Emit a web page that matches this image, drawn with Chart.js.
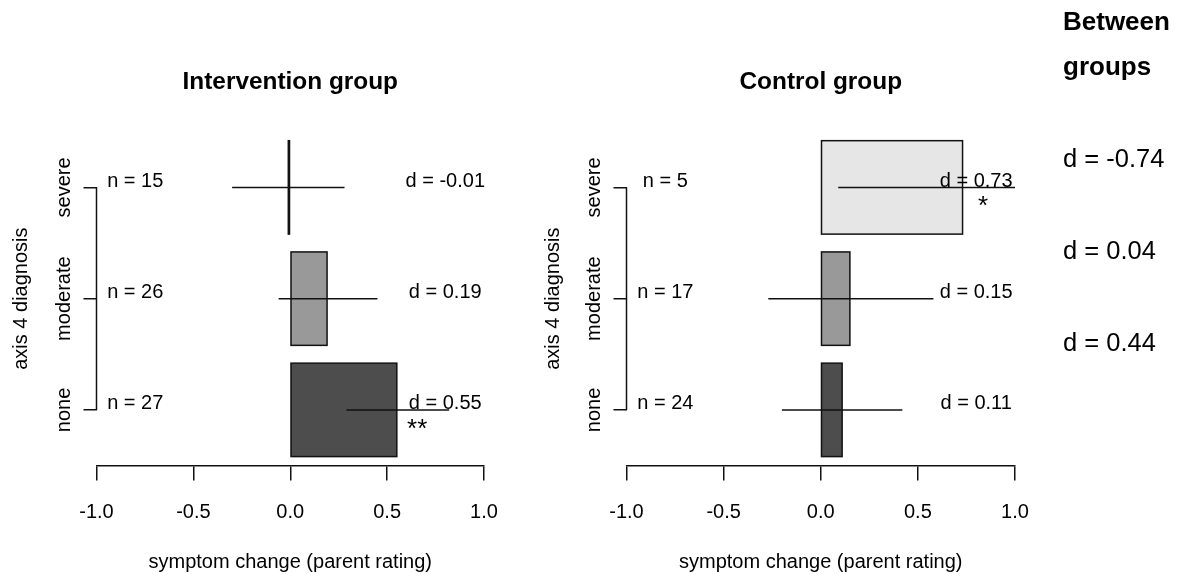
<!DOCTYPE html>
<html>
<head>
<meta charset="utf-8">
<script src="https://cdn.jsdelivr.net/npm/chart.js@4"></script>
<style>
  html, body { margin: 0; padding: 0; background: #fff; }
  #wrap { position: relative; width: 1185px; height: 574px; overflow: hidden; }
  #left { position: absolute; left: 0; top: 0; }
  #right { position: absolute; left: 530px; top: 0; }
</style>
</head>
<body>
<div id="wrap">
  <canvas id="left" width="530" height="574"></canvas>
  <canvas id="right" width="655" height="574"></canvas>
</div>
<script>
// Diagnosis categories, top to bottom
const categories = ['severe', 'moderate', 'none'];
const xTickValues = [-1, -0.5, 0, 0.5, 1];
const xTickLabels = ['-1.0', '-0.5', '0.0', '0.5', '1.0'];

// Intervention group: effect size d, confidence interval, sample size, significance
const interventionD = [-0.01, 0.19, 0.55];
const interventionLow = [-0.30, -0.06, 0.29];
const interventionHigh = [0.28, 0.45, 0.82];
const interventionN = [15, 26, 27];
const interventionSig = ['', '', '**'];

// Control group
const controlD = [0.73, 0.15, 0.11];
const controlLow = [0.09, -0.27, -0.20];
const controlHigh = [1.00, 0.58, 0.42];
const controlN = [5, 17, 24];
const controlSig = ['*', '', ''];

// Between-group effect sizes
const betweenD = [-0.74, 0.04, 0.44];

const FONT = '"Liberation Sans", Arial, Helvetica, sans-serif';
const barFills = ['#e6e6e6', '#999999', '#4d4d4d'];
const INK = '#111';

// Bar outlines centred on the edges, whiskers, value labels,
// and a y axis whose line spans only the first..last tick
const groupMarks = {
  id: 'groupMarks',
  afterDatasetsDraw(chart, args, opts) {
    const { ctx, chartArea } = chart;
    const x = chart.scales.x, y = chart.scales.y;
    const labels = y.getLabels();
    ctx.save();
    ctx.strokeStyle = INK;
    ctx.lineWidth = 1.5;

    chart.getDatasetMeta(0).data.forEach((bar) => {
      const { x: bx, y: by, base, height } = bar.getProps(['x', 'y', 'base', 'height'], true);
      ctx.strokeRect(Math.min(bx, base), by - height / 2, Math.abs(bx - base), height);
    });

    ctx.beginPath();
    ctx.moveTo(chartArea.left, y.getPixelForValue(0));
    ctx.lineTo(chartArea.left, y.getPixelForValue(labels.length - 1));
    ctx.stroke();

    ctx.fillStyle = '#000';
    labels.forEach((lab, i) => {
      const py = y.getPixelForValue(i);
      ctx.font = '20px ' + FONT;
      // rotated category label
      ctx.save();
      ctx.translate(chartArea.left - 32, py);
      ctx.rotate(-Math.PI / 2);
      ctx.textAlign = 'center';
      ctx.textBaseline = 'middle';
      ctx.fillText(lab, 0, 0);
      ctx.restore();

      // confidence interval
      ctx.beginPath();
      ctx.moveTo(x.getPixelForValue(opts.low[i]), py);
      ctx.lineTo(x.getPixelForValue(opts.high[i]), py);
      ctx.stroke();

      ctx.textAlign = 'center';
      ctx.textBaseline = 'middle';
      ctx.fillText('n = ' + opts.n[i], x.getPixelForValue(-0.8), py - 6);
      ctx.fillText('d = ' + opts.d[i].toFixed(2), x.getPixelForValue(0.8), py - 6);
      if (opts.sig[i]) {
        ctx.font = '26px ' + FONT;
        ctx.fillText(opts.sig[i], x.getPixelForValue(opts.d[i] + 0.105), py + 19.5);
      }
    });
    ctx.restore();
  }
};

// Column of between-group effect sizes to the right of the control panel
const betweenColumn = {
  id: 'betweenColumn',
  afterDraw(chart) {
    const { ctx, chartArea } = chart;
    const x0 = chartArea.right + 48;
    ctx.save();
    ctx.fillStyle = '#000';
    ctx.textAlign = 'left';
    ctx.textBaseline = 'middle';
    ctx.font = 'bold 26px ' + FONT;
    ctx.fillText('Between', x0, 22.7);
    ctx.fillText('groups', x0, 67.7);
    ctx.font = '25.5px ' + FONT;
    betweenD.forEach((v, i) => {
      ctx.fillText('d = ' + v.toFixed(2), x0, 159.5 + i * 92);
    });
    ctx.restore();
  }
};

function makePanel(canvasId, title, d, low, high, n, sig, rightPad, yTitlePad, extraPlugins) {
  return new Chart(document.getElementById(canvasId), {
    type: 'bar',
    data: {
      labels: categories,
      datasets: [{
        data: d,
        backgroundColor: barFills,
        borderWidth: 0,
        inflateAmount: 0,
        barPercentage: 0.84,
        categoryPercentage: 1.0
      }]
    },
    options: {
      indexAxis: 'y',
      responsive: false,
      animation: false,
      devicePixelRatio: 1,
      layout: { padding: { left: 0, right: rightPad, top: 0, bottom: 0 } },
      plugins: {
        legend: { display: false },
        tooltip: { enabled: false },
        title: {
          display: true,
          text: title,
          fullSize: false,
          color: '#000',
          font: { family: FONT, size: 24.4, weight: 'bold' },
          padding: { top: 68, bottom: 34.5 }
        },
        groupMarks: { d, low, high, n, sig }
      },
      scales: {
        x: {
          type: 'linear',
          min: -1,
          max: 1,
          afterBuildTicks: (s) => { s.ticks = xTickValues.map(v => ({ value: v })); },
          afterFit: (s) => { s.height = 108.5; },
          ticks: {
            autoSkip: false,
            maxRotation: 0,
            padding: 20,
            color: '#000',
            font: { family: FONT, size: 20 },
            callback: (v, i) => xTickLabels[i]
          },
          grid: { drawOnChartArea: false, drawTicks: true, tickLength: 15, color: INK, lineWidth: 1.5 },
          border: { display: true, color: INK, width: 1.5 },
          title: {
            display: true,
            text: 'symptom change (parent rating)',
            color: '#000',
            font: { family: FONT, size: 20 },
            padding: { top: 0, bottom: 0 }
          }
        },
        y: {
          type: 'category',
          offset: true,
          afterFit: (s) => { s.width = 96.5; },
          ticks: { display: false },
          grid: { offset: false, drawOnChartArea: false, drawTicks: true, tickLength: 13, color: INK, lineWidth: 1.5 },
          border: { display: false },
          title: {
            display: true,
            text: 'axis 4 diagnosis',
            color: '#000',
            font: { family: FONT, size: 20 },
            padding: { top: yTitlePad, bottom: 0 }
          }
        }
      }
    },
    plugins: [groupMarks].concat(extraPlugins)
  });
}

makePanel('left', 'Intervention group', interventionD, interventionLow, interventionHigh,
  interventionN, interventionSig, 46, 9, []);
makePanel('right', 'Control group', controlD, controlLow, controlHigh,
  controlN, controlSig, 170, 11, [betweenColumn]);
</script>
</body>
</html>
